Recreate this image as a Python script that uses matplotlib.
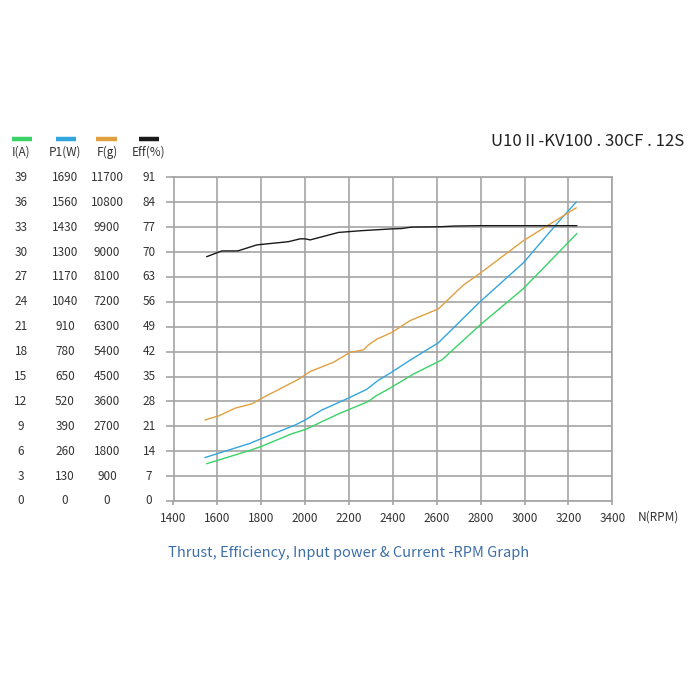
import matplotlib
matplotlib.use("Agg")
import matplotlib.pyplot as plt
import matplotlib.transforms as mtransforms
import numpy as np

# ---- data (native units) ----
rpm_I = [1552, 1749, 1803, 1939, 2000, 2152, 2289, 2319, 2387, 2494, 2623, 2797, 2995, 3238]
I_A = [4.5, 6.1, 6.6, 8.1, 8.6, 10.5, 12.0, 12.6, 13.6, 15.3, 17.0, 21.2, 25.6, 32.2]

rpm_P = [1544, 1749, 1803, 1955, 2000, 2076, 2197, 2281, 2334, 2387, 2478, 2607, 2797, 2995, 3162, 3235]
P1_W = [227, 301, 327, 397, 423, 475, 537, 583, 631, 667, 735, 826, 1040, 1244, 1467, 1560]

rpm_F = [1544, 1605, 1681, 1757, 1803, 1969, 2023, 2129, 2205, 2266, 2289, 2327, 2395, 2478,
         2607, 2721, 2797, 2995, 3146, 3235]
F_g = [2931, 3073, 3356, 3510, 3716, 4397, 4680, 5014, 5374, 5464, 5644, 5850, 6094, 6519,
       6943, 7804, 8229, 9411, 10157, 10594]

rpm_E = [1552, 1620, 1693, 1780, 1924, 1977, 2000, 2023, 2152, 2258, 2395, 2440, 2486, 2615,
         2683, 2788, 3238]
Eff = [68.7, 70.3, 70.3, 72.0, 72.9, 73.7, 73.7, 73.4, 75.5, 76.0, 76.5, 76.6, 77.0, 77.1,
       77.3, 77.4, 77.4]

I_ticks = [0, 3, 6, 9, 12, 15, 18, 21, 24, 27, 30, 33, 36, 39]
P_ticks = [0, 130, 260, 390, 520, 650, 780, 910, 1040, 1170, 1300, 1430, 1560, 1690]
F_ticks = [0, 900, 1800, 2700, 3600, 4500, 5400, 6300, 7200, 8100, 9000, 9900, 10800, 11700]
E_ticks = [0, 7, 14, 21, 28, 35, 42, 49, 56, 63, 70, 77, 84, 91]
x_ticks = [1400, 1600, 1800, 2000, 2200, 2400, 2600, 2800, 3000, 3200, 3400]

series_names = ["I(A)", "P1(W)", "F(g)", "Eff(%)"]
colors = ["#3ad266", "#33a5de", "#e0a040", "#1a1a1a"]

# ---- figure ----
fig = plt.figure(figsize=(7, 7), dpi=100)
fig.patch.set_facecolor("white")
W, H = 700, 700
ax = fig.add_axes([173.5 / W, 1 - 501 / H, (612.3 - 173.5) / W, (501 - 177.3) / H])

ax.set_xlim(1400, 3400)
ax.set_ylim(0, 91)
ax.set_xticks(x_ticks)
ax.set_yticks(E_ticks)
ax.grid(True, color="#a4a4a4", linewidth=1.2)
ax.set_axisbelow(True)
for s in ax.spines.values():
    s.set_color("#a4a4a4")
    s.set_linewidth(1.2)
ax.tick_params(axis="y", length=6, width=1.2, color="#a4a4a4", labelleft=False)
ax.tick_params(axis="x", length=3, width=1.2, color="#a4a4a4", labelsize=8.5,
               labelcolor="#333333", pad=5)
for lab in ax.get_xticklabels():
    lab.set_family("Noto Sans CJK JP")

lw = 1.0
ax.plot(rpm_I, np.array(I_A) * 91 / 39, color=colors[0], lw=lw)
ax.plot(rpm_P, np.array(P1_W) * 91 / 1690, color=colors[1], lw=lw)
ax.plot(rpm_F, np.array(F_g) * 91 / 11700, color=colors[2], lw=lw)
ax.plot(rpm_E, Eff, color=colors[3], lw=lw)

# ---- left columns of scale labels ----
trans = mtransforms.blended_transform_factory(fig.transFigure, ax.transData)
col_x = [21 / W, 65 / W, 107 / W, 149 / W]
cols = [I_ticks, P_ticks, F_ticks, E_ticks]
for cx, vals in zip(col_x, cols):
    for yv, v in zip(E_ticks, vals):
        fig.text(cx, yv, str(v), transform=trans, ha="center", va="center",
                 fontsize=8.5, color="#333333", family="Noto Sans CJK JP")

# legend-like headers
bar_x = [(12, 32), (56, 76), (96, 117), (139, 159)]
for (x0, x1), c, name, cx in zip(bar_x, colors, series_names, col_x):
    fig.add_artist(plt.Line2D([x0 / W, x1 / W], [1 - 138.5 / H, 1 - 138.5 / H],
                              transform=fig.transFigure, color=c, lw=3.2,
                              solid_capstyle="butt"))
    fig.text(cx, 1 - 152 / H, name, ha="center", va="center", fontsize=8.5,
             color="#333333", family="Noto Sans CJK JP")

fig.text(658 / W, 1 - 517 / H, "N(RPM)", ha="center", va="center", fontsize=8.5,
         color="#333333", family="Noto Sans CJK JP")

fig.text(684 / W, 1 - 142 / H, "U10\u2161-KV100 . 30CF . 12S", ha="right", va="center",
         fontsize=12, color="#222222", family=["Noto Sans CJK JP", "DejaVu Sans"])

fig.text(349 / W, 1 - 553 / H, "Thrust, Efficiency, Input power & Current -RPM Graph",
         ha="center", va="center", fontsize=10.5, color="#3d6fa8",
         family="Noto Sans CJK JP")

fig.savefig("out.png", dpi=100, facecolor="white")
